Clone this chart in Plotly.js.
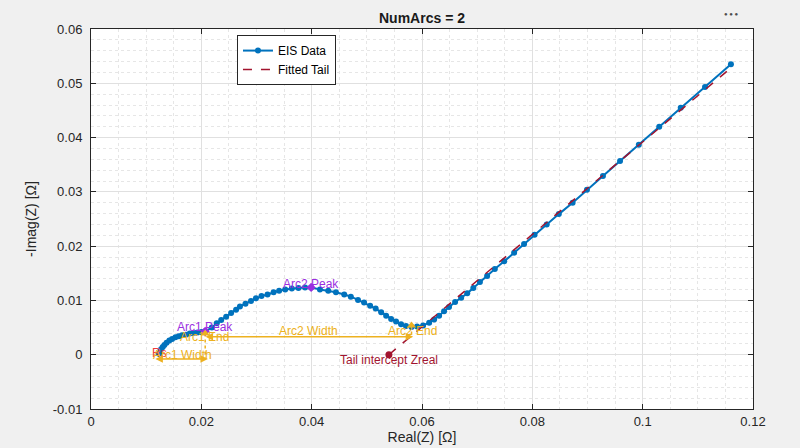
<!DOCTYPE html>
<html>
<head>
<meta charset="utf-8">
<script src="https://cdn.plot.ly/plotly-3.0.1.min.js"></script>
<style>
  html, body { margin: 0; padding: 0; background: #f0f0f0; }
  #chart { width: 800px; height: 448px; }
</style>
</head>
<body>
<div id="chart"></div>
<script>
/*
 Data
*/

var eisRe = [
  0.0123, 0.0125, 0.0127, 0.0130, 0.0133, 0.0137, 0.0142, 0.0147, 0.0153, 0.0159, 0.0165, 0.0172, 0.0179, 0.0186, 0.0193, 0.0200, 0.0207,
  0.0219, 0.0228, 0.0236, 0.0245, 0.0254, 0.0263, 0.0270, 0.0280, 0.0290, 0.0299, 0.0309, 0.0320, 0.0331, 0.0341, 0.0352, 0.0364, 0.0376, 0.0388, 0.0399,
  0.0415, 0.0430, 0.0444, 0.0459, 0.0471, 0.0484, 0.0495, 0.0506, 0.0516, 0.0526, 0.0535, 0.0544, 0.0553, 0.0562, 0.0571, 0.0581,
  0.0591, 0.0602, 0.0613, 0.0622, 0.0631, 0.0640, 0.0649, 0.0660, 0.0671, 0.0682, 0.0693, 0.0705, 0.0718, 0.0732, 0.0749, 0.0767,
  0.0785, 0.0804, 0.0826, 0.0848, 0.0873, 0.0899, 0.0928, 0.0959, 0.0993, 0.1030, 0.1069, 0.1113, 0.1160
];
var eisIm = [
  0.0002, 0.0006, 0.0010, 0.0014, 0.0018, 0.0022, 0.0026, 0.0029, 0.0032, 0.0034, 0.0036, 0.0037, 0.0039, 0.0040, 0.0041, 0.0042, 0.0043,
  0.0050, 0.0058, 0.0064, 0.0070, 0.0077, 0.0083, 0.0089, 0.0094, 0.0099, 0.0104, 0.0108, 0.0111, 0.0115, 0.0118, 0.0120, 0.0122, 0.0123, 0.0124, 0.0124,
  0.0120, 0.0118, 0.0115, 0.0111, 0.0107, 0.0101, 0.0096, 0.0090, 0.0085, 0.0078, 0.0072, 0.0066, 0.0061, 0.0056, 0.0053, 0.0051,
  0.0052, 0.0054, 0.0059, 0.0065, 0.0072, 0.0080, 0.0088, 0.0097, 0.0105, 0.0113, 0.0123, 0.0134, 0.0145, 0.0158, 0.0172, 0.0188,
  0.0204, 0.0221, 0.0240, 0.0259, 0.0280, 0.0304, 0.0329, 0.0357, 0.0387, 0.0420, 0.0455, 0.0493, 0.0535
];

// fitted tail line (from intercept to end of data)
var tailRe = [0.0540, 0.1155];
var tailIm = [0.0, 0.0524];

// feature points
var peakRe = [0.0207, 0.0399];
var peakIm = [0.0043, 0.0124];
var endRe = [0.0207, 0.0581];
var endIm = [0.0039, 0.0054];
var interceptRe = [0.0540];
var interceptIm = [0.0];

// width arrows: [start, end] and their height
var arc1WidthRe = [0.0114, 0.0212];
var arc1WidthIm = -0.0008;
var arc2WidthRe = [0.0205, 0.0584];
var arc2WidthIm = 0.0033;

// text labels
var labelText = ["Rs", "Arc1 Peak", "Arc1 End", "Arc1 Width", "Arc2 Peak", "Arc2 End", "Arc2 Width", "Tail intercept Zreal"];
var labelRe = [0.0107, 0.0207, 0.0205, 0.0166, 0.0399, 0.0582, 0.0394, 0.0540];
var labelIm = [0.0004, 0.0051, 0.0032, 0.0000, 0.0131, 0.0043, 0.0043, -0.0010];
var labelColor = ["#f03c3c", "#9a2fe0", "#edb120", "#edb120", "#9a2fe0", "#edb120", "#edb120", "#a2142f"];
var labelAnchor = ["left", "center", "center", "center", "center", "center", "center", "center"];

// axis ticks
var xTicks = [0, 0.02, 0.04, 0.06, 0.08, 0.1, 0.12];
var xTickText = ["0", "0.02", "0.04", "0.06", "0.08", "0.1", "0.12"];
var yTicks = [-0.01, 0, 0.01, 0.02, 0.03, 0.04, 0.05, 0.06];
var yTickText = ["-0.01", "0", "0.01", "0.02", "0.03", "0.04", "0.05", "0.06"];

/*
 Traces
*/

var orange = "#edb120";
var purple = "#9a2fe0";
var darkred = "#a2142f";
var ink = "#262626";
var font = "Liberation Sans, Arial, Helvetica, sans-serif";

var eis = {
  x: eisRe, y: eisIm,
  name: "EIS Data",
  mode: "lines+markers",
  line: {color: "#0072bd", width: 2},
  marker: {color: "#0072bd", size: 6}
};

var tail = {
  x: tailRe, y: tailIm,
  name: "Fitted Tail",
  mode: "lines",
  line: {color: darkred, width: 1.5, dash: "dash"}
};

var arc1Drop = {
  x: [endRe[0], endRe[0]], y: [endIm[0], arc1WidthIm],
  mode: "lines", showlegend: false,
  line: {color: orange, width: 1.5, dash: "dot"}
};

var arc2Drop = {
  x: [endRe[1], endRe[1]], y: [endIm[1], arc2WidthIm],
  mode: "lines", showlegend: false,
  line: {color: orange, width: 1.5, dash: "dot"}
};

var peaks = {
  x: peakRe, y: peakIm,
  mode: "markers", showlegend: false,
  marker: {color: purple, size: 7, symbol: "diamond"}
};

var ends = {
  x: endRe, y: endIm,
  mode: "markers", showlegend: false,
  marker: {color: orange, size: 8, symbol: "triangle-up"}
};

var intercept = {
  x: interceptRe, y: interceptIm,
  mode: "markers", showlegend: false,
  marker: {color: darkred, size: 7}
};

var data = [arc1Drop, arc2Drop, eis, tail, peaks, ends, intercept];

/*
 Annotations
*/

function widthArrow(re, im) {
  return {
    x: re[1], y: im, ax: re[0], ay: im,
    xref: "x", yref: "y", axref: "x", ayref: "y",
    text: "", showarrow: true,
    arrowside: "end+start", arrowhead: 2, startarrowhead: 2,
    arrowsize: 1, startarrowsize: 1,
    arrowwidth: 1.5, arrowcolor: orange
  };
}

var annotations = [widthArrow(arc1WidthRe, arc1WidthIm), widthArrow(arc2WidthRe, arc2WidthIm)];

for (var i = 0; i < labelText.length; i++) {
  annotations.push({
    x: labelRe[i], y: labelIm[i], xref: "x", yref: "y",
    text: labelText[i], showarrow: false,
    xanchor: labelAnchor[i], yanchor: "middle",
    font: {family: font, size: 12, color: labelColor[i]}
  });
}

// toolbar dots in the corner
annotations.push({
  x: 0.982, y: 1.052, xref: "paper", yref: "paper",
  text: "\u25CF \u25CF \u25CF", showarrow: false,
  font: {family: font, size: 6, color: "#4d4d4d"}
});

var layout = {
  width: 800,
  height: 448,
  margin: {l: 91, r: 47, t: 29, b: 39},
  paper_bgcolor: "#f0f0f0",
  plot_bgcolor: "#ffffff",
  font: {family: font, size: 13, color: ink},
  title: {
    text: "<b>NumArcs = 2</b>",
    x: 0.5275, xref: "container", xanchor: "center",
    y: 0.96, yref: "container", yanchor: "middle",
    font: {family: font, size: 14, color: "#1a1a1a"}
  },
  showlegend: true,
  legend: {
    x: 0.2205, y: 0.984, xanchor: "left", yanchor: "top",
    bgcolor: "#ffffff", bordercolor: ink, borderwidth: 1,
    font: {family: font, size: 12, color: "#000000"},
    tracegroupgap: 0
  },
  xaxis: {
    range: [0, 0.12],
    tickvals: xTicks, ticktext: xTickText,
    ticks: "inside", ticklen: 5, tickcolor: ink,
    showline: true, linecolor: ink, linewidth: 1, mirror: "ticks",
    showgrid: true, gridcolor: "#e0e0e0", gridwidth: 1,
    zeroline: false,
    minor: {dtick: 0.005, showgrid: true, gridcolor: "#e6e6e6", griddash: "dot", gridwidth: 1},
    tickfont: {family: font, size: 13, color: ink},
    title: {text: "Real(Z) [\u03A9]", font: {family: font, size: 14, color: ink}, standoff: 3}
  },
  yaxis: {
    range: [-0.01, 0.06],
    tickvals: yTicks, ticktext: yTickText,
    ticks: "inside", ticklen: 5, tickcolor: ink,
    showline: true, linecolor: ink, linewidth: 1, mirror: "ticks",
    showgrid: true, gridcolor: "#e0e0e0", gridwidth: 1,
    zeroline: false,
    minor: {dtick: 0.002, showgrid: true, gridcolor: "#e6e6e6", griddash: "dot", gridwidth: 1},
    tickfont: {family: font, size: 13, color: ink},
    ticklabelstandoff: 5,
    title: {text: "-Imag(Z) [\u03A9]", font: {family: font, size: 14, color: ink}, standoff: 12}
  },
  annotations: annotations
};

var config = {
  displayModeBar: false,
  staticPlot: true
};

Plotly.newPlot("chart", data, layout, config);
</script>
</body>
</html>
